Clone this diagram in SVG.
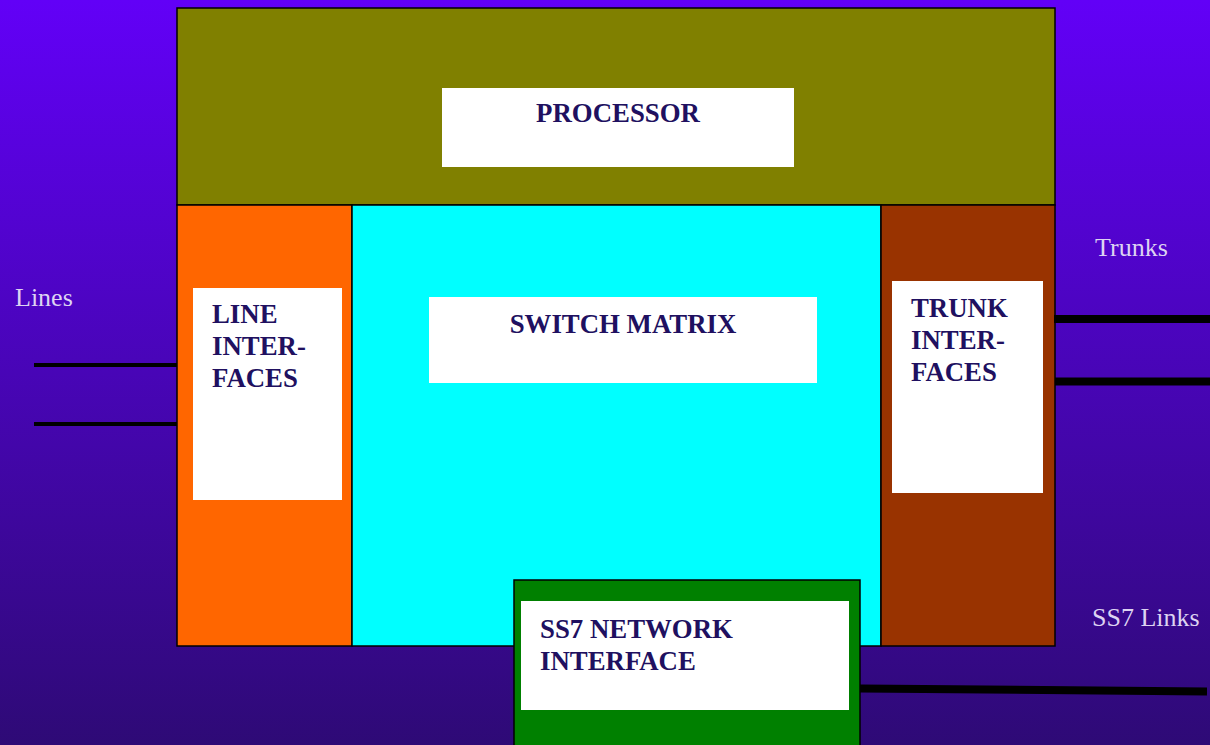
<svg xmlns="http://www.w3.org/2000/svg" width="1210" height="745" viewBox="0 0 1210 745">
  <defs>
    <linearGradient id="bg" x1="0" y1="0" x2="0" y2="1">
      <stop offset="0" stop-color="#6200f7"/>
      <stop offset="1" stop-color="#2e0a76"/>
    </linearGradient>
  </defs>
  <style>
    .blk { stroke: #000; stroke-width: 1.5; }
    .pane { fill: #fff; }
    .lbl { font-family: "Liberation Serif", "Times New Roman", serif; font-weight: bold; font-size: 26.8px; fill: #201060; }
    .ext { font-family: "Liberation Serif", "Times New Roman", serif; font-size: 26px; fill: #ddd3f2; }
    .wire { stroke: #000; fill: none; }
  </style>

  <rect width="1210" height="745" fill="url(#bg)"/>

  <g id="processor">
    <rect class="blk" x="177" y="8" width="878" height="197" fill="#808000"/>
    <rect class="pane" x="442" y="88" width="352" height="79"/>
    <text class="lbl" x="618" y="122" text-anchor="middle">PROCESSOR</text>
  </g>

  <g id="line-interfaces">
    <rect class="blk" x="177" y="205" width="175" height="441" fill="#ff6600"/>
    <rect class="pane" x="193" y="288" width="149" height="212"/>
    <text class="lbl" x="212" y="323">LINE</text>
    <text class="lbl" x="212" y="355">INTER-</text>
    <text class="lbl" x="212" y="387">FACES</text>
  </g>

  <g id="switch-matrix">
    <rect class="blk" x="352" y="205" width="529" height="441" fill="#00ffff"/>
    <rect class="pane" x="429" y="297" width="388" height="86"/>
    <text class="lbl" x="623" y="333" text-anchor="middle">SWITCH MATRIX</text>
  </g>

  <g id="trunk-interfaces">
    <rect class="blk" x="881" y="205" width="174" height="441" fill="#993300"/>
    <rect class="pane" x="892" y="281" width="151" height="212"/>
    <text class="lbl" x="911" y="317">TRUNK</text>
    <text class="lbl" x="911" y="349">INTER-</text>
    <text class="lbl" x="911" y="381">FACES</text>
  </g>

  <g id="ss7-interface">
    <rect class="blk" x="514" y="580" width="346" height="170" fill="#008000"/>
    <rect class="pane" x="521" y="601" width="328" height="109"/>
    <text class="lbl" x="540" y="638">SS7 NETWORK</text>
    <text class="lbl" x="540" y="670">INTERFACE</text>
  </g>

  <g id="connectors">
    <line class="wire" x1="34" y1="365" x2="177" y2="365" stroke-width="4"/>
    <line class="wire" x1="34" y1="424" x2="177" y2="424" stroke-width="4"/>
    <line class="wire" x1="1054" y1="319" x2="1210" y2="319" stroke-width="8"/>
    <line class="wire" x1="1055" y1="381.5" x2="1210" y2="381.5" stroke-width="8"/>
    <line class="wire" x1="860" y1="688.5" x2="1207" y2="691.5" stroke-width="8"/>
  </g>

  <g id="external-labels">
    <text class="ext" x="15" y="306">Lines</text>
    <text class="ext" x="1095" y="256">Trunks</text>
    <text class="ext" x="1092" y="626">SS7 Links</text>
  </g>
</svg>
